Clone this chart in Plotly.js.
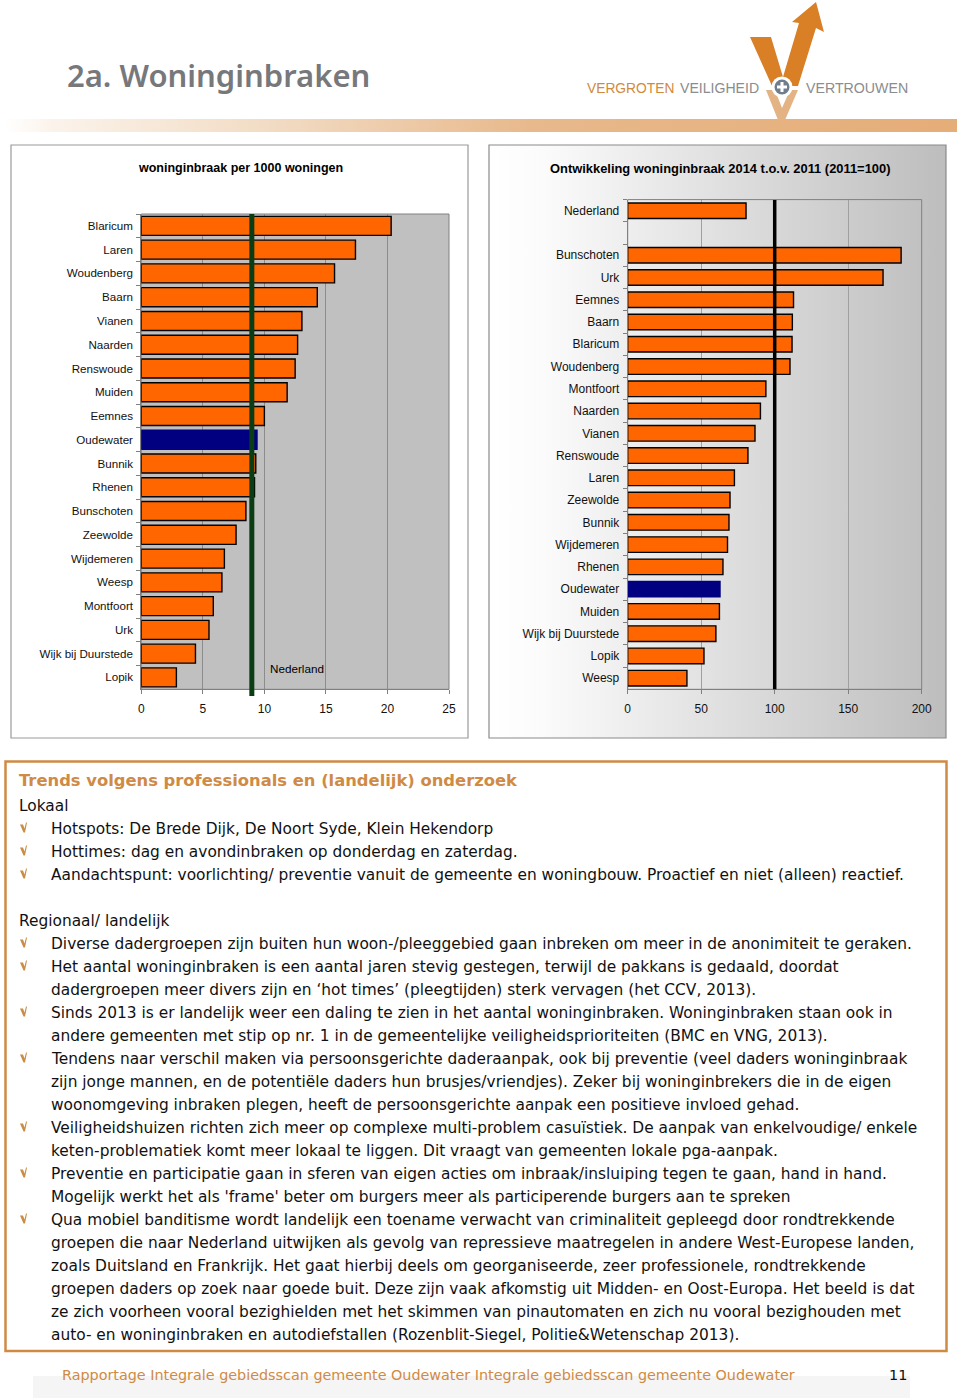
<!DOCTYPE html>
<html><head><meta charset="utf-8">
<script src="https://cdn.plot.ly/plotly-3.0.1.min.js"></script>
<style>html,body{margin:0;padding:0;background:#fff}#c{width:960px;height:1398px}</style>
</head><body><div id="c"></div>
<script>
const rateCats=["Blaricum","Laren","Woudenberg","Baarn","Vianen","Naarden","Renswoude","Muiden","Eemnes","Oudewater","Bunnik","Rhenen","Bunschoten","Zeewolde","Wijdemeren","Weesp","Montfoort","Urk","Wijk bij Duurstede","Lopik"];
const rateVals=[20.3,17.4,15.7,14.3,13.05,12.7,12.5,11.85,10.0,9.4,9.3,9.2,8.5,7.7,6.75,6.55,5.85,5.5,4.4,2.85];
const rateNederland=8.98;
const trendCats=["Nederland"," ","Bunschoten","Urk","Eemnes","Baarn","Blaricum","Woudenberg","Montfoort","Naarden","Vianen","Renswoude","Laren","Zeewolde","Bunnik","Wijdemeren","Rhenen","Oudewater","Muiden","Wijk bij Duurstede","Lopik","Weesp"];
const trendVals=[80.5,null,186,173.7,112.8,112,111.8,110.4,94,90.3,86.6,81.8,72.6,69.6,68.9,67.9,64.8,62.8,62.4,60,51.9,40.3];
const trendBase=100;
const highlight="Oudewater";
const title1="woninginbraak per 1000 woningen";
const title2="Ontwikkeling woninginbraak 2014 t.o.v. 2011 (2011=100)";
const rateTicks=[0,5,10,15,20,25];
const trendTicks=[0,50,100,150,200];
const bodyLines=[
["Lokaal",806,0],
["Hotspots: De Brede Dijk, De Noort Syde, Klein Hekendorp",829,1],
["Hottimes: dag en avondinbraken op donderdag en zaterdag.",852,1],
["Aandachtspunt: voorlichting/ preventie vanuit de gemeente en woningbouw. Proactief en niet (alleen) reactief.",875,1],
["Regionaal/ landelijk",921,0],
["Diverse dadergroepen zijn buiten hun woon-/pleeggebied gaan inbreken om meer in de anonimiteit te geraken.",944,1],
["Het aantal woninginbraken is een aantal jaren stevig gestegen, terwijl de pakkans is gedaald, doordat",967,1],
["dadergroepen meer divers zijn en ‘hot times’ (pleegtijden) sterk vervagen (het CCV, 2013).",990,2],
["Sinds 2013 is er landelijk weer een daling te zien in het aantal woninginbraken. Woninginbraken staan ook in",1013,1],
["andere gemeenten met stip op nr. 1 in de gemeentelijke veiligheidsprioriteiten (BMC en VNG, 2013).",1036,2],
["Tendens naar verschil maken via persoonsgerichte daderaanpak, ook bij preventie (veel daders woninginbraak",1059,1],
["zijn jonge mannen, en de potentiële daders hun brusjes/vriendjes). Zeker bij woninginbrekers die in de eigen",1082,2],
["woonomgeving inbraken plegen, heeft de persoonsgerichte aanpak een positieve invloed gehad.",1105,2],
["Veiligheidshuizen richten zich meer op complexe multi-problem casuïstiek. De aanpak van enkelvoudige/ enkele",1128,1],
["keten-problematiek komt meer lokaal te liggen. Dit vraagt van gemeenten lokale pga-aanpak.",1151,2],
["Preventie en participatie gaan in sferen van eigen acties om inbraak/insluiping tegen te gaan, hand in hand.",1174,1],
["Mogelijk werkt het als 'frame' beter om burgers meer als participerende burgers aan te spreken",1197,2],
["Qua mobiel banditisme wordt landelijk een toename verwacht van criminaliteit gepleegd door rondtrekkende",1220,1],
["groepen die naar Nederland uitwijken als gevolg van repressieve maatregelen in andere West-Europese landen,",1243,2],
["zoals Duitsland en Frankrijk. Het gaat hierbij deels om georganiseerde, zeer professionele, rondtrekkende",1266,2],
["groepen daders op zoek naar goede buit. Deze zijn vaak afkomstig uit Midden- en Oost-Europa. Het beeld is dat",1289,2],
["ze zich voorheen vooral bezighielden met het skimmen van pinautomaten en zich nu vooral bezighouden met",1312,2],
["auto- en woninginbraken en autodiefstallen (Rozenblit-Siegel, Politie&Wetenschap 2013).",1335,2]
];

const W=960,H=1398;
const px=x=>x/W, py=y=>1-y/H;
const ORANGE="#FF6600",NAVY="#000080",ACC="#cf8a45";
const ann=[];
function T(text,x,y,size,color,family,anchor,weight){
  ann.push({text:text,x:px(x),y:py(y),xref:"paper",yref:"paper",showarrow:false,xanchor:anchor||"left",yanchor:"middle",borderpad:0,
    font:{size:size,color:color||"#000",family:family||"DejaVu Sans",weight:weight||400}});
}
const shapes=[];
function P(points,fill){
  const d="M"+points.map(p=>px(p[0]).toFixed(5)+","+py(p[1]).toFixed(5)).join("L")+"Z";
  shapes.push({type:"path",path:d,xref:"paper",yref:"paper",fillcolor:fill,line:{width:0},layer:"above"});
}
function R(x0,y0,x1,y1,fill,lc,lw,layer){
  shapes.push({type:"rect",xref:"paper",yref:"paper",x0:px(x0),x1:px(x1),y0:py(y0),y1:py(y1),fillcolor:fill||"rgba(0,0,0,0)",line:{color:lc||"rgba(0,0,0,0)",width:lw||0},layer:layer||"below"});
}
function C(cx,cy,r,fill){
  shapes.push({type:"circle",xref:"paper",yref:"paper",x0:px(cx-r),x1:px(cx+r),y0:py(cy+r),y1:py(cy-r),fillcolor:fill,line:{width:0},layer:"above"});
}
function grad(stops){
  const s=stops.map(a=>`<stop offset="${a[0]}" stop-color="${a[1]}"/>`).join("");
  return "data:image/svg+xml;utf8,"+encodeURIComponent(`<svg xmlns="http://www.w3.org/2000/svg" width="100" height="10" preserveAspectRatio="none" viewBox="0 0 100 10"><defs><linearGradient id="g">${s}</linearGradient></defs><rect width="100" height="10" fill="url(#g)"/></svg>`);
}
const images=[
 {source:grad([[0,"#ffffff"],[0.05,"#fbf3ea"],[0.3,"#f1d9c0"],[0.55,"#e8b98c"],[1,"#e5ad78"]]),xref:"paper",yref:"paper",x:px(5),y:py(119),sizex:px(952),sizey:13/H,sizing:"stretch",xanchor:"left",yanchor:"top",layer:"below"},
 {source:grad([[0,"#ffffff"],[0.12,"#fbfbfb"],[1,"#bdbdbd"]]),xref:"paper",yref:"paper",x:px(489),y:py(145),sizex:px(457),sizey:593/H,sizing:"stretch",xanchor:"left",yanchor:"top",layer:"below"}
];

// panels
R(11,145,468,738,"#ffffff","#9a9a9a",1.2);
R(489,145,946,738,null,"#8a8a8a",1.2);
// plot backgrounds
R(141.3,214,449,689.3,"#c0c0c0","#808080",1);
R(627.7,199.6,921.7,689.3,null,"#808080",1);
// text box and footer
R(5.5,761.5,946.5,1351,"#ffffff",ACC,2.5);
R(33,1376,910,1398,"#f5f5f5");
// logo
P([[766,90],[775,90],[782,108],[790,90],[798,90],[785,120],[778,120]],"#e4b383");
P([[750,37],[771,37],[783,77],[799,23],[792,22],[816,2],[824,32],[816,28],[798,86],[772,86]],"#d97f26");
C(782,87,10.5,"#ffffff");
C(782,87,7.5,"#6f7d8c");
P([[780.5,82],[783.5,82],[783.5,85.5],[787,85.5],[787,88.5],[783.5,88.5],[783.5,92],[780.5,92],[780.5,88.5],[777,88.5],[777,85.5],[780.5,85.5]],"#ffffff");
// check bullets
bodyLines.filter(l=>l[2]===1).forEach(l=>{
  const c=l[1]-1.5;
  P([[20,c-3],[23,c-3],[24.5,c+1],[26,c-5],[27,c-5],[25,c+5],[23.5,c+5]],"#c98d45");
});

// texts
T("2a. Woninginbraken",65.5,75.5,31,"#77787b","Noto Sans","left",600);
T("VERGROTEN",586,88,13.8,"#d08a3e","Liberation Sans");
T("VEILIGHEID",678.5,88,14.1,"#8b8c8e","Liberation Sans");
T("VERTROUWEN",805,88,14.2,"#8b8c8e","Liberation Sans");
T(title1,240.5,167.5,12.5,"#000","Liberation Sans","center",700);
T(title2,719.5,169,12.9,"#000","Liberation Sans","center",700);
T("Nederland",296.5,668.5,11.7,"#000","Liberation Sans","center");
T("Trends volgens professionals en (landelijk) onderzoek",18,780.5,16.35,"#cf8a45","DejaVu Sans","left",700);
bodyLines.forEach(l=>T(l[0],l[2]?49.5:18,l[1],15.4,"#111","DejaVu Sans"));
T("Rapportage Integrale gebiedsscan gemeente Oudewater Integrale gebiedsscan gemeente Oudewater",60.5,1375,14.35,"#cf8a45","DejaVu Sans","left",400);
T("11",898,1375,14.4,"#111","DejaVu Sans","center");

// reference lines
shapes.push({type:"line",xref:"x",yref:"paper",x0:rateNederland,x1:rateNederland,y0:py(214),y1:py(696),line:{color:"#0b3d14",width:5},layer:"above"});
shapes.push({type:"line",xref:"x2",yref:"paper",x0:trendBase,x1:trendBase,y0:py(200),y1:py(689.3),line:{color:"#000",width:3.5},layer:"above"});

const barCol=c=>c.map(n=>n===highlight?NAVY:ORANGE);
const barLine=c=>c.map(n=>n===highlight?NAVY:"#000");
const data=[
 {type:"bar",orientation:"h",x:rateVals,y:rateCats,xaxis:"x",yaxis:"y",width:0.8,marker:{color:barCol(rateCats),line:{color:barLine(rateCats),width:1.4}},hoverinfo:"x+y"},
 {type:"bar",orientation:"h",x:trendVals,y:trendCats,xaxis:"x2",yaxis:"y2",width:0.7,marker:{color:barCol(trendCats),line:{color:barLine(trendCats),width:1.4}},hoverinfo:"x+y"}
];
const tf={family:"Liberation Sans",size:12,color:"#111"};
const tfL={family:"Liberation Sans",size:11.6,color:"#111"};
const xa={showline:true,linecolor:"#808080",linewidth:1,ticks:"outside",ticklen:4,tickcolor:"#808080",tickfont:tf,showgrid:true,gridwidth:1,zeroline:false,tickmode:"array",ticklabelstandoff:4,fixedrange:true};
const ya={type:"category",autorange:false,showline:true,linecolor:"#808080",linewidth:1,ticks:"outside",ticklen:4,tickcolor:"#808080",tickson:"boundaries",showgrid:false,zeroline:false,fixedrange:true,ticklabelstandoff:5};
const layout={
 width:W,height:H,margin:{l:0,r:0,t:0,b:0,pad:0},paper_bgcolor:"#fff",plot_bgcolor:"rgba(0,0,0,0)",showlegend:false,barmode:"overlay",
 xaxis:Object.assign({},xa,{domain:[px(141.3),px(449)],range:[0,25],tickvals:rateTicks,anchor:"y",gridcolor:"#8c8c8c"}),
 yaxis:Object.assign({},ya,{domain:[py(689.3),py(214)],range:[rateCats.length-0.5,-0.5],categoryorder:"array",categoryarray:rateCats,anchor:"x",tickfont:tfL}),
 xaxis2:Object.assign({},xa,{domain:[px(627.7),px(921.7)],range:[0,200],tickvals:trendTicks,anchor:"y2",gridcolor:"#a0a0a0"}),
 yaxis2:Object.assign({},ya,{domain:[py(689.3),py(199.6)],range:[trendCats.length-0.5,-0.5],categoryorder:"array",categoryarray:trendCats,anchor:"x2",tickfont:tf}),
 shapes:shapes,annotations:ann,images:images
};
Plotly.newPlot("c",data,layout,{displayModeBar:false,staticPlot:true});
</script></body></html>
